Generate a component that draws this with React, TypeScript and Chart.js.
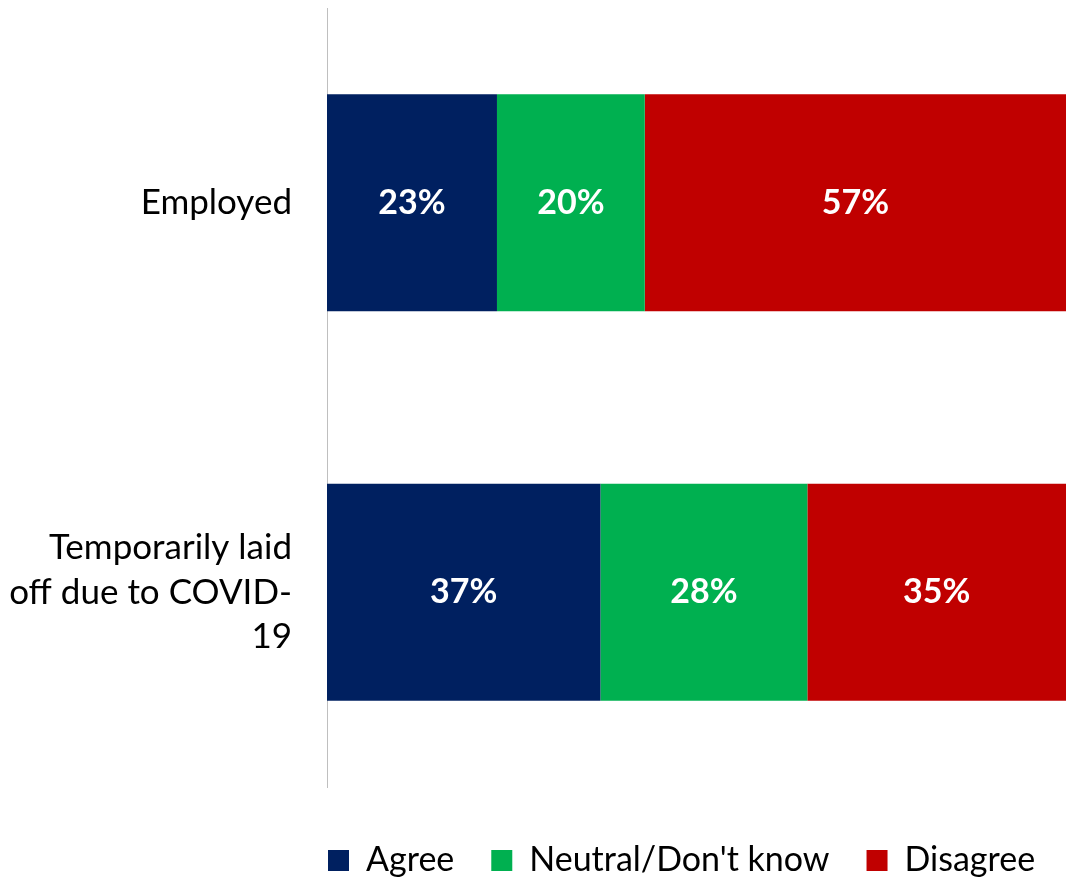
import React, { useEffect, useRef } from "react";
import { Chart, registerables } from "chart.js";

Chart.register(...registerables);

const categories: string[][] = [["Employed"], ["Temporarily laid", "off due to COVID-", "19"]];
const seriesNames: string[] = ["Agree", "Neutral/Don't know", "Disagree"];
const agreeValues: number[] = [23, 37];
const neutralValues: number[] = [20, 28];
const disagreeValues: number[] = [57, 35];
const seriesColors: string[] = ["#002060", "#00B050", "#C00000"];

const FONT = "Lato, 'Open Sans', sans-serif";

const dataLabelPlugin = {
  id: "dataLabels",
  afterDatasetsDraw(chart: any) {
    const ctx = chart.ctx;
    ctx.save();
    ctx.font = `bold 34px ${FONT}`;
    ctx.fillStyle = "#FFFFFF";
    ctx.textAlign = "center";
    ctx.textBaseline = "middle";
    chart.data.datasets.forEach((ds: any, i: number) => {
      const meta = chart.getDatasetMeta(i);
      meta.data.forEach((bar: any, j: number) => {
        const v = ds.data[j];
        const cx = (bar.x + bar.base) / 2;
        ctx.fillText(`${v}%`, cx, bar.y);
      });
    });
    ctx.restore();
  },
};

const legendFitPlugin = {
  id: "legendFit",
  afterInit(chart: any) {
    const lg = chart.legend;
    if (!lg) return;
    const orig = lg.fit.bind(lg);
    lg.fit = function () {
      orig();
      this.height = 70.5;
    };
  },
  afterLayout(chart: any) {
    const lg = chart.legend;
    if (!lg) return;
    // start legend under the plot area's left edge, keep it on one row
    lg.left = chart.chartArea.left - 36;
    lg.right = chart.width + 200;
    lg.width = lg.right - lg.left;
  },
};

export default function App() {
  const ref = useRef<HTMLCanvasElement | null>(null);
  useEffect(() => {
    if (!ref.current) return;
    const datasets = [agreeValues, neutralValues, disagreeValues].map((vals, i) => ({
      label: seriesNames[i],
      data: vals,
      backgroundColor: seriesColors[i],
      borderWidth: 0,
      categoryPercentage: 1,
      barPercentage: 0.557,
    }));
    const chart = new Chart(ref.current, {
      type: "bar",
      data: { labels: categories, datasets },
      options: {
        indexAxis: "y",
        responsive: false,
        animation: false,
        layout: { padding: { top: 8, right: 3, left: 0, bottom: 0 } },
        scales: {
          x: {
            stacked: true,
            min: 0,
            max: 100,
            ticks: { display: false },
            grid: { display: false, drawTicks: false },
            border: { display: false },
            afterFit: (s: any) => {
              s.height = 19.5;
              s.paddingLeft = 0;
              s.paddingRight = 0;
            },
          },
          y: {
            stacked: true,
            grid: { display: false, drawTicks: false },
            border: { display: true, color: "#BFBFBF", width: 1 },
            ticks: {
              color: "#000000",
              padding: 35,
              font: { family: FONT, size: 35, lineHeight: 1.27 },
            },
            afterFit: (s: any) => {
              s.width = 327;
              s.paddingTop = 0;
              s.paddingBottom = 0;
            },
          },
        },
        plugins: {
          tooltip: { enabled: false },
          legend: {
            position: "bottom",
            align: "start",
            fullSize: true,
            labels: {
              color: "#000000",
              boxWidth: 21,
              boxHeight: 21,
              padding: 37,
              font: { family: FONT, size: 34, lineHeight: 1 },
            },
          },
        },
      },
      plugins: [dataLabelPlugin, legendFitPlugin],
    });
    return () => chart.destroy();
  }, []);
  return (
    <div style={{ position: "absolute", left: 0, top: 0, width: 1069, height: 877, background: "#fff" }}>
      <canvas ref={ref} width={1069} height={877} style={{ width: 1069, height: 877, display: "block" }} />
    </div>
  );
}
